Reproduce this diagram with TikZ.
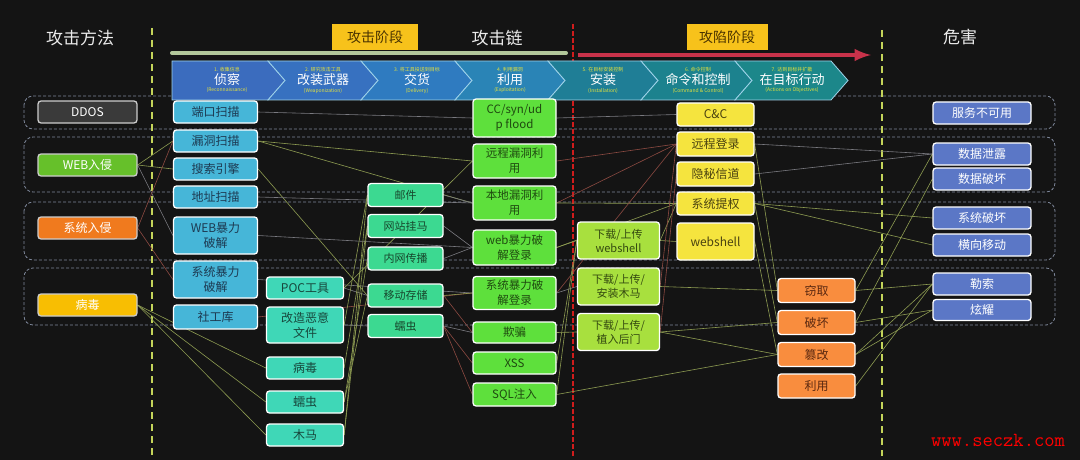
\documentclass[tikz,border=0pt]{standalone}
\usepackage{fontspec}
\setmainfont{Noto Sans CJK SC}
\usetikzlibrary{arrows}

\definecolor{bgdark}{HTML}{141414}
\definecolor{grpline}{HTML}{7E879A}
\definecolor{stageyel}{HTML}{F7C21B}
\definecolor{stagetxt}{HTML}{4A3300}
\definecolor{chevsub}{HTML}{E6E23C}
\definecolor{chevline}{HTML}{9FD3EA}
\definecolor{chA}{HTML}{3B6CBE}
\definecolor{chB}{HTML}{3771C0}
\definecolor{chC}{HTML}{2F7BC0}
\definecolor{chD}{HTML}{2A84B6}
\definecolor{chE}{HTML}{1F7E96}
\definecolor{chF}{HTML}{1C828E}
\definecolor{chG}{HTML}{1C878A}
\definecolor{barGreen}{HTML}{B2C79A}
\definecolor{arrRed}{HTML}{C8324A}
\definecolor{dashGreen}{HTML}{C4D45A}
\definecolor{dashRed}{HTML}{D01C1C}
\definecolor{reconbg}{HTML}{46B6D8}
\definecolor{recontx}{HTML}{1D3A52}
\definecolor{weapbg}{HTML}{3FD7B7}
\definecolor{weaptx}{HTML}{17473C}
\definecolor{delivbg}{HTML}{3CD991}
\definecolor{delivtx}{HTML}{17472C}
\definecolor{explbg}{HTML}{5EE03C}
\definecolor{expltx}{HTML}{1F4A10}
\definecolor{instbg}{HTML}{A8E03E}
\definecolor{insttx}{HTML}{344A10}
\definecolor{ctrlbg}{HTML}{F5E43E}
\definecolor{ctrltx}{HTML}{4A4210}
\definecolor{actbg}{HTML}{F98D3E}
\definecolor{acttx}{HTML}{5A2810}
\definecolor{harmbg}{HTML}{5B77C6}
\definecolor{ddosbg}{HTML}{3A3A3A}
\definecolor{webbg}{HTML}{66C02A}
\definecolor{sysbg}{HTML}{F07A1E}
\definecolor{virbg}{HTML}{F8BE02}
\definecolor{lnkolive}{HTML}{8E9C52}
\definecolor{lnkred}{HTML}{8C4A42}
\definecolor{lnkgrey}{HTML}{7A7A80}

\pgfdeclarelayer{bg}
\pgfdeclarelayer{lnks}
\pgfsetlayers{bg,lnks,main}

\begin{document}
\begin{tikzpicture}[x=1pt, y=-1pt,
  every node/.style={font=\fontsize{12}{15}\selectfont},
  hdr/.style={text=white!92!black, font=\fontsize{17}{20}\selectfont},
  stage/.style={fill=stageyel, text=stagetxt, font=\fontsize{14}{16}\selectfont, minimum height=26pt, inner sep=2pt},
  chev/.style={text=white, font=\fontsize{13}{15}\selectfont, inner sep=0pt},
  sub/.style={text=chevsub, font=\fontsize{5}{6}\selectfont, inner sep=1.5pt},
  chevbox/.style={draw=chevline, line width=0.8pt},
  grp/.style={draw=grpline, line width=0.8pt, dash pattern=on 3pt off 2pt, rounded corners=9pt},
  box/.style={draw=white, line width=1.3pt, rounded corners=3pt, align=center, inner sep=1pt},
  meth/.style={box, draw=white!80!black, minimum width=99pt, minimum height=22pt, text=white},
  recon/.style={box, fill=reconbg, text=recontx, minimum width=84pt, minimum height=22pt},
  weap/.style={box, fill=weapbg, text=weaptx, minimum width=77pt, minimum height=22pt},
  deliv/.style={box, fill=delivbg, text=delivtx, minimum width=75pt, minimum height=23pt, font=\fontsize{11}{14}\selectfont},
  expl/.style={box, fill=explbg, text=expltx, minimum width=83pt, minimum height=22pt, font=\fontsize{11.5}{15}\selectfont},
  inst/.style={box, fill=instbg, text=insttx, minimum width=82pt, minimum height=37pt, font=\fontsize{11}{14}\selectfont},
  ctrl/.style={box, fill=ctrlbg, text=ctrltx, minimum width=77pt, minimum height=23pt},
  act/.style={box, fill=actbg, text=acttx, minimum width=77pt, minimum height=24pt},
  harm/.style={box, fill=harmbg, text=white, minimum width=98pt, minimum height=22pt},
  lnk/.style={draw=lnkolive, line width=0.6pt},
  lnkr/.style={draw=lnkred, line width=0.6pt},
  lnkg/.style={draw=lnkgrey, line width=0.6pt}]

\useasboundingbox (0,0) rectangle (1080,460);

% headings
\node[hdr] (hmeth) at (80,38) {攻击方法};
\node[stage, minimum width=86pt] (stA) at (375,37) {攻击阶段};
\node[hdr] (hchain) at (497,38) {攻击链};
\node[stage, minimum width=81pt] (stB) at (727,37) {攻陷阶段};
\node[hdr] (hharm) at (960,37) {危害};

\coordinate (gbarL) at (172,53);
\coordinate (gbarR) at (566,53);
\coordinate (rarrL) at (578,55);
\coordinate (rarrR) at (871,55);
\draw[barGreen, line width=4pt, line cap=round] (gbarL) -- (gbarR);
\draw[arrRed, line width=4.5pt, -latex] (rarrL) -- (rarrR);

% kill chain
\filldraw[chevbox, fill=chA] (172,61) -- (268,61) -- (285,80.5) -- (268,100) -- (172,100) -- cycle;
\filldraw[chevbox, fill=chB] (268,61) -- (361,61) -- (378,80.5) -- (361,100) -- (268,100) -- (285,80.5) -- cycle;
\filldraw[chevbox, fill=chC] (361,61) -- (455,61) -- (472,80.5) -- (455,100) -- (361,100) -- (378,80.5) -- cycle;
\filldraw[chevbox, fill=chD] (455,61) -- (548,61) -- (565,80.5) -- (548,100) -- (455,100) -- (472,80.5) -- cycle;
\filldraw[chevbox, fill=chE] (548,61) -- (641,61) -- (658,80.5) -- (641,100) -- (548,100) -- (565,80.5) -- cycle;
\filldraw[chevbox, fill=chF] (641,61) -- (735,61) -- (752,80.5) -- (735,100) -- (641,100) -- (658,80.5) -- cycle;
\filldraw[chevbox, fill=chG] (735,61) -- (831,61) -- (848,80.5) -- (831,100) -- (735,100) -- (752,80.5) -- cycle;

\node[chev, label={[sub]above:1. 收集信息}, label={[sub]below:(Reconnaissance)}] (ch1) at (227,80) {侦察};
\node[chev, label={[sub]above:2. 研究攻击工具}, label={[sub]below:(Weaponization)}] (ch2) at (323,80) {改装武器};
\node[chev, label={[sub]above:3. 将工具投送到目标}, label={[sub]below:(Delivery)}] (ch3) at (417,80) {交货};
\node[chev, label={[sub]above:4. 利用漏洞}, label={[sub]below:(Exploitation)}] (ch4) at (510,80) {利用};
\node[chev, label={[sub]above:5. 在目标安装控制}, label={[sub]below:(Installation)}] (ch5) at (603,80) {安装};
\node[chev, label={[sub]above:6. 命令控制}, label={[sub]below:(Command \& Control)}] (ch6) at (698,80) {命令和控制};
\node[chev, label={[sub]above:7. 达到目标并扩散}, label={[sub]below:(Actions on Objectives)}] (ch7) at (792,80) {在目标行动};

% attack methods
\node[meth, fill=ddosbg] (ddos) at (87.5,112) {DDOS};
\node[meth, fill=webbg] (webin) at (87.5,165) {WEB入侵};
\node[meth, fill=sysbg] (sysin) at (87.5,228) {系统入侵};
\node[meth, fill=virbg] (virus) at (87.5,305) {病毒};

% reconnaissance
\node[recon] (scanport) at (215.5,112) {端口扫描};
\node[recon] (scanvuln) at (215.5,141) {漏洞扫描};
\node[recon] (search) at (215.5,169) {搜索引擎};
\node[recon] (scanaddr) at (215.5,197) {地址扫描};
\node[recon, minimum height=37pt] (webbrute) at (215.5,235.5) {WEB暴力\\破解};
\node[recon, minimum height=37pt] (sysbrute) at (215.5,279.5) {系统暴力\\破解};
\node[recon, minimum height=24pt] (sgk) at (215.5,317) {社工库};

% weaponization
\node[weap] (poc) at (305,288) {POC工具};
\node[weap, minimum height=36pt] (malfile) at (305,325) {改造恶意\\文件};
\node[weap] (virus2) at (305,368) {病毒};
\node[weap] (worm2) at (305,402) {蠕虫};
\node[weap] (trojan2) at (305,435) {木马};

% delivery
\node[deliv] (mail) at (405.5,195) {邮件};
\node[deliv] (webtrojan) at (405.5,226) {网站挂马};
\node[deliv] (lanspread) at (405.5,258.5) {内网传播};
\node[deliv] (usb) at (405.5,295.5) {移动存储};
\node[deliv] (worm3) at (405.5,326) {蠕虫};

% exploitation
\node[expl, minimum height=38pt] (flood) at (514.5,118) {CC/syn/ud\\p flood};
\node[expl, minimum height=34pt] (rexp) at (514.5,161) {远程漏洞利\\用};
\node[expl, minimum height=34pt] (lexp) at (514.5,203) {本地漏洞利\\用};
\node[expl, minimum height=35pt] (weblogin) at (514.5,247.5) {web暴力破\\解登录};
\node[expl, minimum height=33pt] (syslogin) at (514.5,293) {系统暴力破\\解登录};
\node[expl, minimum height=21pt] (spoof) at (514.5,332.5) {欺骗};
\node[expl] (xss) at (514.5,363) {XSS};
\node[expl, minimum height=23pt] (sqli) at (514.5,394.5) {SQL注入};

% installation
\node[inst] (upshell) at (618.5,240.5) {下载/上传\\webshell};
\node[inst] (uptrojan) at (618.5,286.5) {下载/上传/\\安装木马};
\node[inst] (upbackdoor) at (618.5,332) {下载/上传/\\植入后门};

% command and control
\node[ctrl] (cc) at (715.5,114.5) {C\&C};
\node[ctrl, minimum height=24pt] (rlogin) at (715.5,144) {远程登录};
\node[ctrl, minimum height=24pt] (covert) at (715.5,174) {隐秘信道};
\node[ctrl] (privesc) at (715.5,203.5) {系统提权};
\node[ctrl, minimum height=37pt] (wshell) at (715.5,241.5) {webshell};

% actions
\node[act] (steal) at (816.5,290.5) {窃取};
\node[act] (destroy) at (816.5,322.5) {破坏};
\node[act] (tamper) at (816.5,354.5) {篡改};
\node[act] (abuse) at (816.5,386) {利用};

% harm
\node[harm] (dos) at (982,113) {服务不可用};
\node[harm] (leak) at (982,154) {数据泄露};
\node[harm] (dmg) at (982,179) {数据破坏};
\node[harm] (sysdmg) at (982,218) {系统破坏};
\node[harm] (lateral) at (982,245) {横向移动};
\node[harm] (ransom) at (982,284) {勒索};
\node[harm, minimum height=21pt] (showoff) at (982,310) {炫耀};

\node[text=red, font=\ttfamily\fontsize{20}{22}\selectfont] (wm) at (998,440) {www.seczk.com};

\begin{pgfonlayer}{bg}
\fill[bgdark] (0,0) rectangle (1080,460);
\draw[grp] (24,96) rectangle (1055,129);
\draw[grp] (24,137) rectangle (1055,192);
\draw[grp] (24,202) rectangle (1055,260);
\draw[grp] (24,268) rectangle (1055,325);
\end{pgfonlayer}

\begin{pgfonlayer}{lnks}
\draw[dashGreen, line width=1.6pt, dash pattern=on 7pt off 5pt] (152,28) -- (152,456);
\draw[dashGreen, line width=1.6pt, dash pattern=on 7pt off 5pt] (882,30) -- (882,456);
\draw[dashRed, line width=1.3pt, dash pattern=on 5pt off 2pt] (573,24) -- (573,456);

\draw[lnk] (webin.east) -- (scanvuln.west);
\draw[lnk] (webin.east) -- (search.west);
\draw[lnkg] (webin.east) -- (webbrute.west);
\draw[lnkr] (sysin.east) -- (scanvuln.west);
\draw[lnkr] (sysin.east) -- (sysbrute.west);
\draw[lnk] (virus.east) -- (virus2.west);
\draw[lnk] (virus.east) -- (worm2.west);
\draw[lnk] (virus.east) -- (trojan2.west);

\draw[lnkg] (scanport.east) -- (flood.west);
\draw[lnk] (scanvuln.east) -- (rexp.west);
\draw[lnk] (scanvuln.east) -- (lexp.west);
\draw[lnk] (search.east) -- (usb.west);
\draw[lnkg] (scanaddr.east) -- (lexp.west);
\draw[lnkg] (webbrute.east) -- (weblogin.west);
\draw[lnkg] (sysbrute.east) -- (syslogin.west);
\draw[lnkr] (sgk.east) -- (syslogin.west);

\draw[lnk] (poc.east) -- (rexp.west);
\draw[lnkg] (poc.east) -- (usb.west);
\draw[lnkg] (malfile.east) -- (worm3.west);
\draw[lnk] (malfile.east) -- (mail.west);
\draw[lnk] (virus2.east) -- (webtrojan.west);
\draw[lnk] (worm2.east) -- (lanspread.west);
\draw[lnk] (worm2.east) -- (usb.west);
\draw[lnk] (trojan2.east) -- (mail.west);
\draw[lnk] (trojan2.east) -- (webtrojan.west);

\draw[lnkg] (mail.east) -- (lexp.west);
\draw[lnkg] (webtrojan.east) -- (weblogin.west);
\draw[lnkg] (lanspread.east) -- (weblogin.west);
\draw[lnk] (usb.east) -- (syslogin.west);
\draw[lnkr] (usb.east) -- (spoof.west);
\draw[lnkg] (worm3.east) -- (spoof.west);
\draw[lnkr] (worm3.east) -- (xss.west);
\draw[lnkr] (worm3.east) -- (sqli.west);

\draw[lnkg] (flood.east) -- (cc.west);
\draw[lnkr] (rexp.east) -- (rlogin.west);
\draw[lnkr] (lexp.east) -- (rlogin.west);
\draw[lnk] (lexp.east) -- (privesc.west);
\draw[lnk] (weblogin.east) -- (upshell.west);
\draw[lnk] (weblogin.east) -- (privesc.west);
\draw[lnkr] (syslogin.east) -- (rlogin.west);
\draw[lnkg] (syslogin.east) -- (uptrojan.west);
\draw[lnk] (spoof.east) -- (upbackdoor.west);
\draw[lnk] (xss.east) -- (upshell.west);
\draw[lnk] (sqli.east) -- (upshell.west);
\draw[lnk] (sqli.east) -- (tamper.west);

\draw[lnk] (upshell.east) -- (privesc.west);
\draw[lnk] (upshell.east) -- (wshell.west);
\draw[lnkr] (uptrojan.east) -- (rlogin.west);
\draw[lnk] (uptrojan.east) -- (steal.west);
\draw[lnk] (upbackdoor.east) -- (destroy.west);
\draw[lnk] (upbackdoor.east) -- (tamper.west);
\draw[lnkr] (upbackdoor.east) -- (covert.west);

\draw[lnkg] (rlogin.east) -- (leak.west);
\draw[lnkg] (covert.east) -- (leak.west);
\draw[lnk] (privesc.east) -- (sysdmg.west);
\draw[lnk] (privesc.east) -- (lateral.west);
\draw[lnk] (privesc.east) -- (destroy.west);
\draw[lnk] (rlogin.east) -- (steal.west);
\draw[lnk] (wshell.east) -- (tamper.west);

\draw[lnk] (steal.east) -- (leak.west);
\draw[lnk] (steal.east) -- (ransom.west);
\draw[lnk] (destroy.east) -- (dmg.west);
\draw[lnk] (destroy.east) -- (showoff.west);
\draw[lnk] (tamper.east) -- (ransom.west);
\draw[lnk] (tamper.east) -- (showoff.west);
\draw[lnk] (abuse.east) -- (ransom.west);
\end{pgfonlayer}
\end{tikzpicture}
\end{document}
